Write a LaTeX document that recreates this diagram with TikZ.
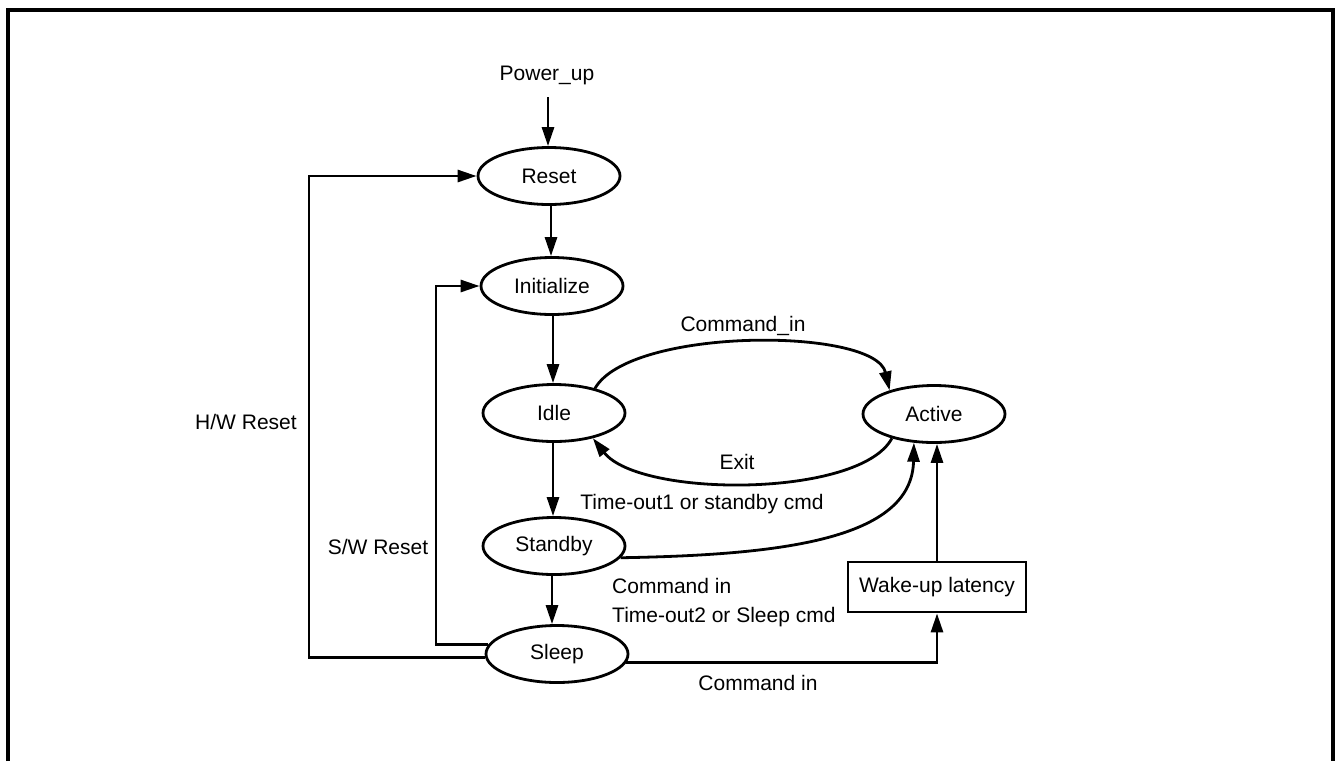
\documentclass[tikz,border=0pt]{standalone}
\usepackage{fontspec}
\setmainfont{Liberation Sans}
\usetikzlibrary{shapes.geometric,arrows.meta}
\begin{document}
\begin{tikzpicture}[x=1pt,y=-1pt,
  every node/.style={font=\fontsize{21}{24}\selectfont},
  state/.style={draw,ellipse,line width=2.8pt,minimum width=142pt,minimum height=57pt,inner sep=0pt},
  boxnode/.style={draw,rectangle,line width=2.8pt,minimum width=178pt,minimum height=50pt,inner sep=0pt},
  conn/.style={line width=2.8pt},
  arr/.style={conn,-{Triangle[length=19pt,width=12pt]}},
  lbl/.style={inner sep=0pt}]
\useasboundingbox (0,0) rectangle (1336,761);
% frame
\draw[line width=3.2pt] (8,761) -- (8,10) -- (1333,10) -- (1333,761);

% states
\node[state] (reset) at (549,176) {Reset};
\node[state] (init) at (552,286) {Initialize};
\node[state] (idle) at (554,413) {Idle};
\node[state] (active) at (934,414) {Active};
\node[state] (standby) at (554,546) {Standby};
\node[state] (sleep) at (557,654) {Sleep};
\node[boxnode] (wake) at (937,587) {Wake-up latency};

% labels
\node[lbl] (pu) at (547,75) {Power\_up};
\node[lbl] (lcin) at (743,326) {Command\_in};
\node[lbl] (lexit) at (737,462) {Exit};
\node[lbl] (lto1) at (702,504) {Time-out1 or standby cmd};
\node[lbl] (lhw) at (246,422) {H/W Reset};
\node[lbl] (lsw) at (378,547) {S/W Reset};
\node[lbl,anchor=west] (lcin2) at (612,586) {Command in};
\node[lbl,anchor=west] (lto2) at (612,617) {Time-out2 or Sleep cmd};
\node[lbl] (lcin3) at (758,683) {Command in};

% connectors
\coordinate (p0) at (548,97);
\draw[arr] (p0) -- (p0 |- reset.north);
\draw[arr] ([xshift=2pt]reset.south) -- ([xshift=2pt]reset.south |- init.north);
\draw[arr] ([xshift=1pt]init.south) -- ([xshift=1pt]init.south |- idle.north);
\draw[arr] ([xshift=-1pt]idle.south) -- ([xshift=-1pt]idle.south |- standby.north);
\draw[arr] ([xshift=-2pt]standby.south) -- ([xshift=-2pt]standby.south |- sleep.north);

\draw[arr] (idle.31) .. controls (630,327) and (875,327) .. (active.152);
\draw[arr] (active.210) .. controls (860,498) and (640,498) .. (idle.327);
\draw[arr] (standby.350) .. controls (780,555) and (912,540) .. (active.235);
\draw[arr] (wake.north) -- (wake.north |- active.south);
\draw[arr] (sleep.353) -| (wake.south);

\coordinate (hwc) at (309,176);
\draw[arr] (sleep.183) -| (hwc) -- (reset.west);
\coordinate (swc) at (436,286);
\draw[arr] (sleep.172) -| (swc) -- (init.west);
\end{tikzpicture}
\end{document}
